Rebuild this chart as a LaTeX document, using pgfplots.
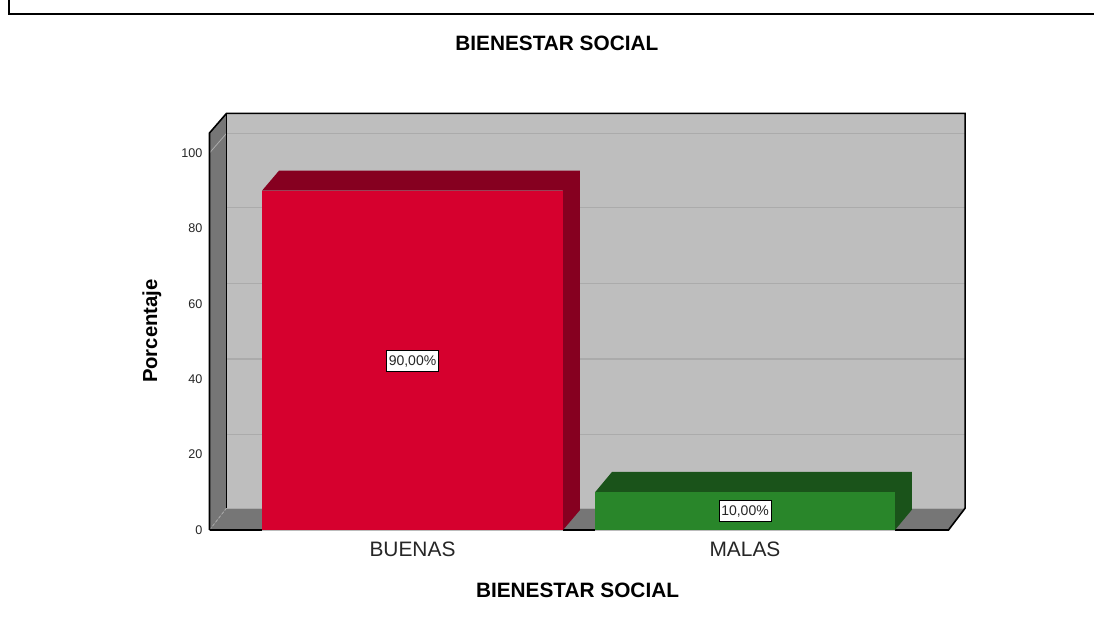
\documentclass[border=0pt]{standalone}
\usepackage{fontspec}
\setmainfont{Liberation Sans}
\usepackage{pgfplots}
\pgfplotsset{compat=1.18}
\definecolor{wallback}{HTML}{BEBEBE}
\definecolor{wallside}{HTML}{767676}
\definecolor{gridc}{HTML}{ABABAB}
\definecolor{redf}{HTML}{D6002E}
\definecolor{redd}{HTML}{860020}
\definecolor{greenf}{HTML}{29862A}
\definecolor{greend}{HTML}{1A531A}
\begin{document}
\begin{tikzpicture}[x=1pt,y=1pt]
\path[use as bounding box] (0,0) rectangle (1094,639);
\fill[white] (0,0) rectangle (1094,639);
\draw[black,line width=2pt] (8.5,639) -- (8.5,624.5) -- (1094,624.5);
\begin{axis}[
  at={(209.5pt,109pt)},anchor=south west,
  scale only axis,width=739pt,height=397pt,
  xmin=-0.6105,xmax=1.612,ymin=0,ymax=105.3,
  clip=false,no markers,
  axis line style={draw=none},
  major tick length=0pt,
  xtick={0,1},xticklabels={BUENAS,MALAS},
  ytick={0,20,40,60,80,100},
  /pgf/number format/assume math mode=true,
  xticklabel style={font=\fontsize{20.9}{22}\selectfont,color=black!85,yshift=-8pt},
  yticklabel style={font=\fontsize{12.6}{14}\selectfont,color=black!85,xshift=-3.5pt},
  xlabel={BIENESTAR SOCIAL},
  ylabel={Porcentaje},
  title={BIENESTAR SOCIAL},
  xlabel style={at={(axis description cs:0.498,-0.151)},anchor=center,font=\fontsize{20.8}{22}\selectfont\bfseries},
  ylabel style={at={(axis description cs:-0.078,0.501)},anchor=center,font=\fontsize{20.3}{22}\selectfont\bfseries},
  title style={at={(axis description cs:0.47,1.2116)},anchor=center,font=\fontsize{20.8}{22}\selectfont\bfseries},
]
% back wall
\addplot[fill=wallback,draw=none] coordinates {(-0.5594,5.8)(1.662,5.8)(1.662,110.5)(-0.5594,110.5)(-0.5594,5.8)};
% grid on the back wall
\addplot[gridc,line width=1.4pt] coordinates {(-0.5594,25.4)(1.662,25.4)};
\addplot[gridc,line width=1.4pt] coordinates {(-0.5594,45.4)(1.662,45.4)};
\addplot[gridc,line width=1.4pt] coordinates {(-0.5594,65.4)(1.662,65.4)};
\addplot[gridc,line width=1.4pt] coordinates {(-0.5594,85.5)(1.662,85.5)};
\addplot[gridc,line width=1.4pt] coordinates {(-0.5594,105.2)(1.662,105.2)};
% left wall and floor
\addplot[fill=wallside,draw=none] coordinates {(-0.6105,0)(-0.5594,5.8)(-0.5594,110.5)(-0.6105,105.3)(-0.6105,0)};
\addplot[fill=wallside,draw=none] coordinates {(-0.6105,0)(1.612,0)(1.662,5.8)(-0.5594,5.8)(-0.6105,0)};
\addplot[gridc,line width=1pt] coordinates {(-0.5594,5.8)(1.662,5.8)};
\addplot[gridc,line width=0.8pt] coordinates {(-0.6105,100)(-0.5594,105.2)};
\addplot[gridc,line width=0.8pt,densely dashed] coordinates {(-0.6105,0)(-0.5594,5.8)};
% edges
\addplot[black,line width=1.6pt] coordinates {(-0.6105,0)(-0.6105,105.3)(-0.5594,110.5)(1.662,110.5)(1.662,5.8)(1.612,0)(-0.6105,0)};
\addplot[black,line width=1.6pt] coordinates {(-0.5594,5.8)(-0.5594,110.5)};
% red bar
\addplot[fill=redd,draw=none] coordinates {(-0.4526,90)(-0.4015,95.3)(0.5037,95.3)(0.5037,5.3)(0.4526,0)(0.4526,90)(-0.4526,90)};
\addplot[ybar,bar width=301pt,bar shift=0pt,fill=redf,draw=none] coordinates {(0,90)};
% green bar
\addplot[fill=greend,draw=none] coordinates {(0.5489,10)(0.6,15.4)(1.502,15.4)(1.502,5.4)(1.451,0)(1.451,10)(0.5489,10)};
\addplot[ybar,bar width=300pt,bar shift=0pt,fill=greenf,draw=none] coordinates {(1,10)};
% base line
\addplot[gridc!80!white,line width=1pt] coordinates {(-0.4526,-0.1)(0.4526,-0.1)};
\addplot[gridc!80!white,line width=1pt] coordinates {(0.5489,-0.1)(1.451,-0.1)};
% labels
\node[fill=white,draw=black,line width=0.9pt,inner sep=0pt,minimum width=52pt,minimum height=21pt,font=\fontsize{14}{15}\selectfont,text=black!85] at (axis cs:0,44.8) {90,00\%};
\node[fill=white,draw=black,line width=0.9pt,inner sep=0pt,minimum width=52pt,minimum height=21pt,font=\fontsize{14}{15}\selectfont,text=black!85] at (axis cs:1,5.03) {10,00\%};
\end{axis}
\end{tikzpicture}
\end{document}
